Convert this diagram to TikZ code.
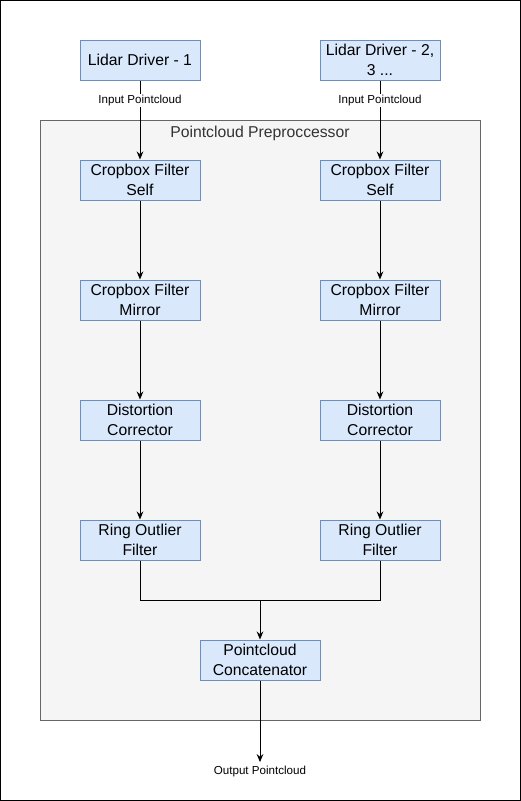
\documentclass[tikz,border=0pt]{standalone}
\usepackage{fontspec}
\setmainfont{Liberation Sans}
\usetikzlibrary{arrows.meta}
\definecolor{boxfill}{HTML}{DAE8FC}
\definecolor{boxdraw}{HTML}{6C8EBF}
\definecolor{grpfill}{HTML}{F5F5F5}
\definecolor{grpdraw}{HTML}{666666}
\definecolor{grptext}{HTML}{333333}
\tikzset{
  stage/.style={draw=boxdraw, fill=boxfill, line width=0.75pt, minimum width=90pt,
    minimum height=30pt, inner sep=1pt, align=center, font=\fontsize{11.8}{15}\selectfont},
  lbl/.style={fill=white, inner sep=1pt, font=\fontsize{8.7}{10}\selectfont}
}
\begin{document}
\begin{tikzpicture}[node distance=90pt, line width=0.75pt, >={Stealth[length=6pt,width=5pt]}]
      \useasboundingbox (0,0) rectangle (390.75pt,-600.75pt);
      \draw[black] (0.4pt,-0.4pt) rectangle (390.35pt,-600.35pt);

      % Preprocessor group
      \draw[grpdraw, fill=grpfill] (30pt,-90pt) rectangle (360pt,-540pt);
      \node (grp) at (195pt,-99.75pt) [text=grptext, font=\fontsize{11.8}{13}\selectfont] {Pointcloud Preproccessor};

      % Left chain
      \node (drv1) at (105pt,-45pt) [stage] {Lidar Driver - 1};
      \node (self1) [below of=drv1, stage] {Cropbox Filter\\Self};
      \node (mirr1) [below of=self1, stage] {Cropbox Filter\\Mirror};
      \node (dist1) [below of=mirr1, stage] {Distortion\\Corrector};
      \node (ring1) [below of=dist1, stage] {Ring Outlier\\Filter};

      % Right chain
      \node (drv2) [right of=drv1, xshift=90pt, stage] {Lidar Driver - 2,\\3 ...};
      \node (self2) [below of=drv2, stage] {Cropbox Filter\\Self};
      \node (mirr2) [below of=self2, stage] {Cropbox Filter\\Mirror};
      \node (dist2) [below of=mirr2, stage] {Distortion\\Corrector};
      \node (ring2) [below of=dist2, stage] {Ring Outlier\\Filter};

      % Concatenation
      \node (concat) [below of=ring1, xshift=90pt, stage] {Pointcloud\\Concatenator};
      \coordinate (mrg) at (195pt,-450pt);
      \node (out) at (195pt,-578.5pt) [font=\fontsize{8.7}{10}\selectfont, inner sep=2.5pt] {Output Pointcloud};

      % Arrows
      \draw[->] (drv1) -- node[pos=0.25, lbl] {Input Pointcloud} (self1);
      \draw[->] (drv2) -- node[pos=0.25, lbl] {Input Pointcloud} (self2);
      \draw[->] (self1) -- (mirr1);
      \draw[->] (mirr1) -- (dist1);
      \draw[->] (dist1) -- (ring1);
      \draw[->] (self2) -- (mirr2);
      \draw[->] (mirr2) -- (dist2);
      \draw[->] (dist2) -- (ring2);
      \draw (ring1) |- (mrg);
      \draw (ring2) |- (mrg);
      \draw[->] (mrg) -- (concat);
      \draw[->] (concat) -- (out);
   \end{tikzpicture}
\end{document}
